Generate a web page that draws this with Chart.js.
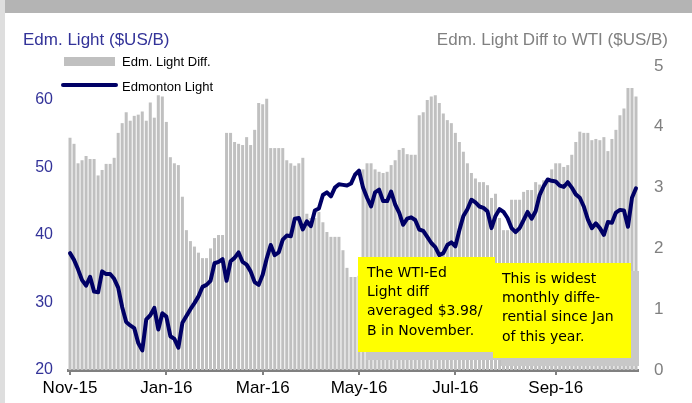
<!DOCTYPE html>
<html>
<head>
<meta charset="utf-8">
<script src="https://cdn.jsdelivr.net/npm/chart.js@4.4.0/dist/chart.umd.min.js"></script>
<style>
  html, body { margin: 0; padding: 0; background: #fff; }
  #wrap { position: relative; width: 692px; height: 403px; }
</style>
</head>
<body>
<div id="wrap"><canvas id="grafico" width="692" height="403"></canvas></div>
<script>
// Dados
const tickLabels = ['Nov-15', 'Jan-16', 'Mar-16', 'May-16', 'Jul-16', 'Sep-16'];
const tickIdx = [0, 24, 48, 72, 96, 121];

// Edmonton Light ($US/B), eixo esquerdo
const edmLight = [
  37.3, 36.3, 34.9, 33.3, 32.5, 33.8, 31.6, 31.5, 34.6, 34.2,
  34.2, 33.5, 32.2, 29.3, 27.1, 26.6, 26.2, 24.0, 22.9, 27.5,
  28.1, 29.2, 26.0, 28.4, 27.9, 25.0, 24.6, 23.3, 27.0, 28.0,
  29.0, 29.9, 30.9, 32.3, 32.6, 33.2, 35.8, 36.0, 36.4, 33.2,
  36.1, 36.6, 37.4, 36.0, 35.6, 34.6, 33.0, 32.6, 34.1, 36.5,
  38.5, 37.0, 37.4, 39.3, 39.9, 39.8, 42.4, 42.5, 40.8, 42.0,
  41.3, 43.6, 43.9, 45.9, 46.3, 45.7, 47.0, 47.5, 47.4, 47.3,
  47.6, 48.9, 49.5, 47.0, 45.5, 44.2, 46.3, 46.7, 45.0, 45.0,
  46.4, 44.5, 43.3, 41.5, 42.4, 42.6, 42.2, 40.8, 40.6, 39.7,
  38.8, 38.2, 37.0, 37.3, 38.5, 38.9, 38.3, 40.7, 42.8, 43.8,
  45.2, 44.8, 44.2, 44.0, 43.5, 41.0, 42.8, 43.8, 43.4, 42.5,
  41.0, 40.4, 41.0, 42.2, 43.4, 42.4, 43.5, 45.9, 47.2, 48.2,
  48.0, 47.9, 47.3, 47.1, 47.8, 47.0, 46.0, 45.5, 44.2, 42.3,
  41.0, 41.7, 41.0, 40.0, 41.9, 41.8, 43.3, 43.7, 43.6, 41.2,
  45.5, 46.9
];

// Edm. Light Diff to WTI ($US/B), eixo direito
const edmDiff = [
  3.82, 3.72, 3.40, 3.45, 3.52, 3.47, 3.47, 3.20, 3.29, 3.39,
  3.39, 3.49, 3.90, 4.06, 4.24, 4.10, 4.18, 4.20, 4.25, 4.10,
  4.40, 4.15, 4.52, 4.50, 4.08, 3.50, 3.40, 3.37, 2.85, 2.30,
  2.12, 2.03, 1.93, 1.84, 1.84, 2.00, 2.17, 2.22, 2.22, 3.90,
  3.90, 3.75, 3.72, 3.70, 3.83, 3.70, 3.95, 4.39, 4.37, 4.46,
  3.65, 3.65, 3.65, 3.65, 3.45, 3.40, 3.36, 3.40, 3.49, 2.57,
  2.50, 2.50, 2.60, 2.43, 2.27, 2.19, 2.19, 2.19, 1.97, 1.68,
  1.53, 1.53, 1.55, 3.30, 3.40, 3.40, 3.30, 3.26, 3.24, 3.26,
  3.37, 3.45, 3.62, 3.65, 3.55, 3.54, 3.54, 4.19, 4.24, 4.44,
  4.50, 4.52, 4.39, 4.22, 4.11, 4.06, 3.90, 3.75, 3.59, 3.40,
  3.24, 3.15, 3.09, 3.09, 3.04, 2.83, 2.90, 2.50, 2.30, 2.30,
  2.80, 2.80, 2.80, 2.93, 2.96, 2.96, 3.09, 3.05, 3.12, 3.10,
  3.30, 3.40, 3.40, 3.34, 3.37, 3.54, 3.75, 3.92, 3.90, 3.90,
  3.78, 3.80, 3.78, 3.83, 3.60, 3.80, 3.95, 4.19, 4.30, 4.64,
  4.64, 4.50
];

// categorias: só algumas têm rótulo
const categorias = edmLight.map((v, i) => {
  const k = tickIdx.indexOf(i);
  return k >= 0 ? tickLabels[k] : '';
});

const fonte = '"Liberation Sans", Arial, sans-serif';
const fonteNota = '"Comic Sans MS", "DejaVu Sans", sans-serif';

// fundo com a moldura cinzenta
const moldura = {
  id: 'moldura',
  beforeDraw(chart) {
    const c = chart.ctx;
    c.save();
    c.fillStyle = '#ffffff';
    c.fillRect(0, 0, chart.width, chart.height);
    c.fillStyle = '#b4b4b4';
    c.fillRect(0, 0, chart.width, 13);
    c.fillStyle = '#dedede';
    c.fillRect(0, 0, 5, chart.height);
    c.restore();
  }
};

// títulos, legenda e notas amarelas
const textos = {
  id: 'textos',
  afterDraw(chart) {
    const c = chart.ctx;
    c.save();
    c.textBaseline = 'middle';

    c.font = '17px ' + fonte;
    c.fillStyle = '#333399';
    c.textAlign = 'left';
    c.fillText('Edm. Light ($US/B)', 23, 40);
    c.fillStyle = '#808080';
    c.textAlign = 'right';
    c.fillText('Edm. Light Diff to WTI ($US/B)', 668, 40);

    // legenda
    c.fillStyle = '#c0c0c0';
    c.fillRect(64, 57, 51, 9);
    c.strokeStyle = '#000066';
    c.lineWidth = 4;
    c.lineCap = 'round';
    c.beginPath();
    c.moveTo(63, 85);
    c.lineTo(116, 85);
    c.stroke();
    c.font = '13px ' + fonte;
    c.fillStyle = '#000000';
    c.textAlign = 'left';
    c.fillText('Edm. Light Diff.', 122, 62);
    c.fillText('Edmonton Light', 122, 87);

    // notas
    const notas = [
      { x: 358, y: 257, w: 137, h: 95, linhas: ['The WTI-Ed', 'Light diff', 'averaged $3.98/', 'B in November.'], y0: 273 },
      { x: 493, y: 263, w: 138, h: 95, linhas: ['This is widest', 'monthly diffe-', 'rential since Jan', 'of this year.'], y0: 279 }
    ];
    notas.forEach(n => {
      c.fillStyle = '#c8c8c8';
      c.fillRect(n.x + 8, n.y + 8, n.w, n.h);
      c.fillStyle = '#ffff00';
      c.fillRect(n.x, n.y, n.w, n.h);
      c.fillStyle = '#000000';
      c.font = '14px ' + fonteNota;
      n.linhas.forEach((t, i) => c.fillText(t, n.x + 9, n.y0 + i * 19.3));
    });
    c.restore();
  }
};

const ctx = document.getElementById('grafico').getContext('2d');
const grafico = new Chart(ctx, {
  type: 'bar',
  data: {
    labels: categorias,
    datasets: [
      {
        type: 'line',
        label: 'Edmonton Light',
        data: edmLight,
        yAxisID: 'y',
        borderColor: '#000066',
        borderWidth: 4,
        pointRadius: 0,
        tension: 0,
        borderJoinStyle: 'round',
        borderCapStyle: 'round',
        order: 0
      },
      {
        type: 'bar',
        label: 'Edm. Light Diff.',
        data: edmDiff,
        yAxisID: 'y1',
        backgroundColor: '#c0c0c0',
        barPercentage: 0.75,
        categoryPercentage: 1.0,
        order: 1
      }
    ]
  },
  options: {
    responsive: false,
    animation: false,
    devicePixelRatio: 1,
    layout: { padding: { top: 66, left: 0, right: 0, bottom: 0 } },
    plugins: {
      legend: { display: false },
      tooltip: { enabled: false }
    },
    scales: {
      x: {
        offset: true,
        afterFit: s => { s.height = 33; },
        border: { display: true, color: '#808080', width: 3 },
        grid: {
          offset: false,
          drawOnChartArea: false,
          drawTicks: true,
          tickLength: 5,
          lineWidth: 2,
          color: c => (categorias[c.index] ? '#808080' : 'rgba(0,0,0,0)')
        },
        ticks: {
          autoSkip: false,
          maxRotation: 0,
          minRotation: 0,
          padding: 3,
          color: '#000000',
          font: { family: fonte, size: 17 },
          callback: (v, i) => categorias[i]
        }
      },
      y: {
        position: 'left',
        min: 20,
        max: 65,
        afterFit: s => { s.width = 68; },
        border: { display: false },
        grid: { display: false, drawTicks: false },
        ticks: {
          stepSize: 10,
          includeBounds: false,
          padding: 15,
          color: '#333399',
          font: { family: fonte, size: 16 },
          callback: v => (v % 10 === 0 ? v : '')
        }
      },
      y1: {
        position: 'right',
        min: 0,
        max: 5,
        afterFit: s => { s.width = 54; },
        border: { display: false },
        grid: { display: false, drawTicks: false },
        ticks: {
          stepSize: 1,
          padding: 16,
          color: '#808080',
          font: { family: fonte, size: 17 }
        }
      }
    }
  },
  plugins: [moldura, textos]
});
</script>
</body>
</html>
